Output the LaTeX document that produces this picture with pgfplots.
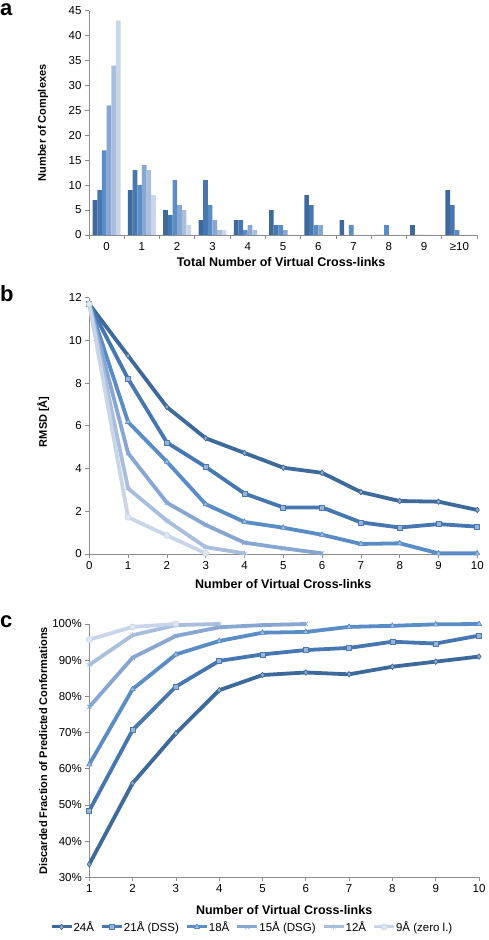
\documentclass[border=0pt]{standalone}
\usepackage{fontspec}
\setmainfont{Liberation Sans}
\usepackage{pgfplots}
\pgfplotsset{compat=1.18}
\definecolor{c1}{HTML}{3E6A9B}
\definecolor{c2}{HTML}{4677B0}
\definecolor{c3}{HTML}{5A8CC6}
\definecolor{c4}{HTML}{87A7D2}
\definecolor{c5}{HTML}{A9BEDD}
\definecolor{c6}{HTML}{C9D5E8}
\definecolor{axgray}{HTML}{8C8C8C}
\newcommand{\xlab}{\bfseries\fontsize{12.5}{14}\selectfont}
\newcommand{\ylab}{\bfseries\fontsize{11}{13}\selectfont}
\pgfplotsset{
  base/.style={scale only axis, axis x line*=bottom, axis y line*=left,
    axis line style={axgray, line width=0.8pt}, tick style={axgray, line width=0.8pt},
    tick align=outside, major tick length=4pt,
    tick label style={font=\fontsize{11.5}{12}\selectfont, black},
    /pgf/number format/assume math mode=true,
    clip=false},
  ser/.style={color=#1, line width=3.8pt, line join=round,
    mark options={solid, fill=#1!55!white, draw=#1, line width=0.7pt}},
  legend image code/.code={\draw[line width=3pt, mark repeat=2, mark phase=2] plot coordinates {(0pt,0pt) (10pt,0pt) (20pt,0pt)};}
}
\begin{document}
\begin{tikzpicture}
\path[use as bounding box] (0pt,0pt) rectangle (488pt,940pt);
\node[anchor=base west, inner sep=0, text height=12pt, font=\bfseries\fontsize{22}{22}\selectfont] at (0pt,924pt) {a};
\node[anchor=base west, inner sep=0, text height=15pt, font=\bfseries\fontsize{22}{22}\selectfont] at (0pt,638.3pt) {b};
\node[anchor=base west, inner sep=0, text height=12pt, font=\bfseries\fontsize{22}{22}\selectfont] at (0pt,312pt) {c};

% panel a
\begin{axis}[base, at={(89pt,705pt)}, anchor=south west, width=388pt, height=224.3pt,
  ybar=0pt, bar width=4.65pt,
  xmin=-0.5, xmax=10.5, ymin=0, ymax=45,
  xtick={0,...,10}, xticklabels={0,1,2,3,4,5,6,7,8,9,≥10},
  major x tick style={draw=none},
  minor xtick={-0.5,0.5,...,10.5}, minor tick length=4pt,
  ytick={0,5,...,45},
  every axis y label/.style={at={(axis description cs:-0.1186,0.5)}, rotate=90, anchor=center, font=\ylab},
  every axis x label/.style={at={(axis description cs:0.495,0)}, anchor=center, yshift=-27pt, font=\xlab},
  ylabel={Number of Complexes}, xlabel={Total Number of Virtual Cross-links}]
\addplot[fill=c1, draw=none] coordinates {(0,7)(1,9)(2,5)(3,3)(4,3)(5,5)(6,8)(7,3)(8,0)(9,2)(10,9)};
\addplot[fill=c2, draw=none] coordinates {(0,9)(1,13)(2,4)(3,11)(4,3)(5,2)(6,6)(7,0)(8,0)(9,0)(10,6)};
\addplot[fill=c3, draw=none] coordinates {(0,17)(1,10)(2,11)(3,6)(4,1)(5,2)(6,2)(7,2)(8,2)(9,0)(10,1)};
\addplot[fill=c4, draw=none] coordinates {(0,26)(1,14)(2,6)(3,3)(4,2)(5,1)(6,2)(7,0)(8,0)(9,0)(10,0)};
\addplot[fill=c5, draw=none] coordinates {(0,34)(1,13)(2,5)(3,1)(4,1)(5,0)(6,0)(7,0)(8,0)(9,0)(10,0)};
\addplot[fill=c6, draw=none] coordinates {(0,43)(1,8)(2,2)(3,1)(4,0)(5,0)(6,0)(7,0)(8,0)(9,0)(10,0)};
\end{axis}

% panel b
\begin{axis}[base, at={(89.3pt,386pt)}, anchor=south west, width=388pt, height=256.3pt,
  xmin=0, xmax=10, ymin=0, ymax=12,
  xtick={0,...,10}, ytick={0,2,...,12},
  every axis y label/.style={at={(axis description cs:-0.1186,0.516)}, rotate=90, anchor=center, font=\ylab},
  every axis x label/.style={at={(axis description cs:0.5,0)}, anchor=center, yshift=-30pt, font=\xlab},
  ylabel={RMSD [Å]}, xlabel={Number of Virtual Cross-links}]
\addplot[ser=c1, mark=diamond*, mark size=2.8pt] coordinates {(0,11.7)(1,9.28)(2,6.88)(3,5.42)(4,4.73)(5,4.04)(6,3.80)(7,2.90)(8,2.48)(9,2.45)(10,2.06)};
\addplot[ser=c2, mark=square*, mark size=2.5pt] coordinates {(0,11.7)(1,8.2)(2,5.22)(3,4.08)(4,2.83)(5,2.18)(6,2.18)(7,1.48)(8,1.24)(9,1.40)(10,1.28)};
\addplot[ser=c3, mark=triangle*, mark size=3pt] coordinates {(0,11.7)(1,6.18)(2,4.32)(3,2.33)(4,1.5)(5,1.23)(6,0.9)(7,0.47)(8,0.5)(9,0.03)(10,0.03)};
\addplot[ser=c4, mark=x, mark size=3pt] coordinates {(0,11.7)(1,4.72)(2,2.4)(3,1.36)(4,0.53)(5,0.27)(6,0.03)};
\addplot[ser=c5, mark=asterisk, mark size=3pt] coordinates {(0,11.7)(1,3.07)(2,1.56)(3,0.32)(4,0.03)};
\addplot[ser=c6, mark=*, mark size=3pt] coordinates {(0,11.7)(1,1.72)(2,0.87)(3,0.03)};
\end{axis}

% panel c
\begin{axis}[base, at={(89.3pt,62.7pt)}, anchor=south west, width=389.7pt, height=253.3pt,
  xmin=1, xmax=10, ymin=30, ymax=100,
  xtick={1,...,10}, ytick={30,40,...,100},
  yticklabel={\pgfmathprintnumber{\tick}\%},
  every axis y label/.style={at={(axis description cs:-0.1186,0.5)}, rotate=90, anchor=center, font=\ylab},
  every axis x label/.style={at={(axis description cs:0.5,0)}, anchor=center, yshift=-33pt, font=\xlab},
  ylabel={Discarded Fraction of Predicted Conformations}, xlabel={Number of Virtual Cross-links},
  legend columns=6,
  legend style={at={(axis description cs:0.416,-0.196)}, anchor=center, draw=none, fill=none,
    font=\fontsize{11.5}{12}\selectfont, /tikz/every even column/.append style={column sep=6pt},
    inner sep=0pt, nodes={inner sep=0.5pt}}]
\addplot[ser=c1, mark=diamond*, mark size=2.8pt] coordinates {(1,33.6)(2,56.0)(3,69.8)(4,81.7)(5,85.9)(6,86.6)(7,86.1)(8,88.2)(9,89.6)(10,91.0)};
\addplot[ser=c2, mark=square*, mark size=2.5pt] coordinates {(1,48.4)(2,70.7)(3,82.7)(4,89.8)(5,91.6)(6,92.8)(7,93.4)(8,95.1)(9,94.6)(10,96.8)};
\addplot[ser=c3, mark=triangle*, mark size=3pt] coordinates {(1,61.2)(2,82.0)(3,91.6)(4,95.3)(5,97.6)(6,97.8)(7,99.2)(8,99.5)(9,99.9)(10,100)};
\addplot[ser=c4, mark=x, mark size=3pt] coordinates {(1,77.1)(2,90.7)(3,96.7)(4,99.1)(5,99.7)(6,100)};
\addplot[ser=c5, mark=asterisk, mark size=3pt] coordinates {(1,88.7)(2,96.9)(3,99.7)(4,100)};
\addplot[ser=c6, mark=*, mark size=3pt] coordinates {(1,95.7)(2,99.2)(3,100)};
\legend{24Å, 21Å (DSS), 18Å, 15Å (DSG), 12Å, 9Å (zero l.)}
\end{axis}
\end{tikzpicture}
\end{document}
